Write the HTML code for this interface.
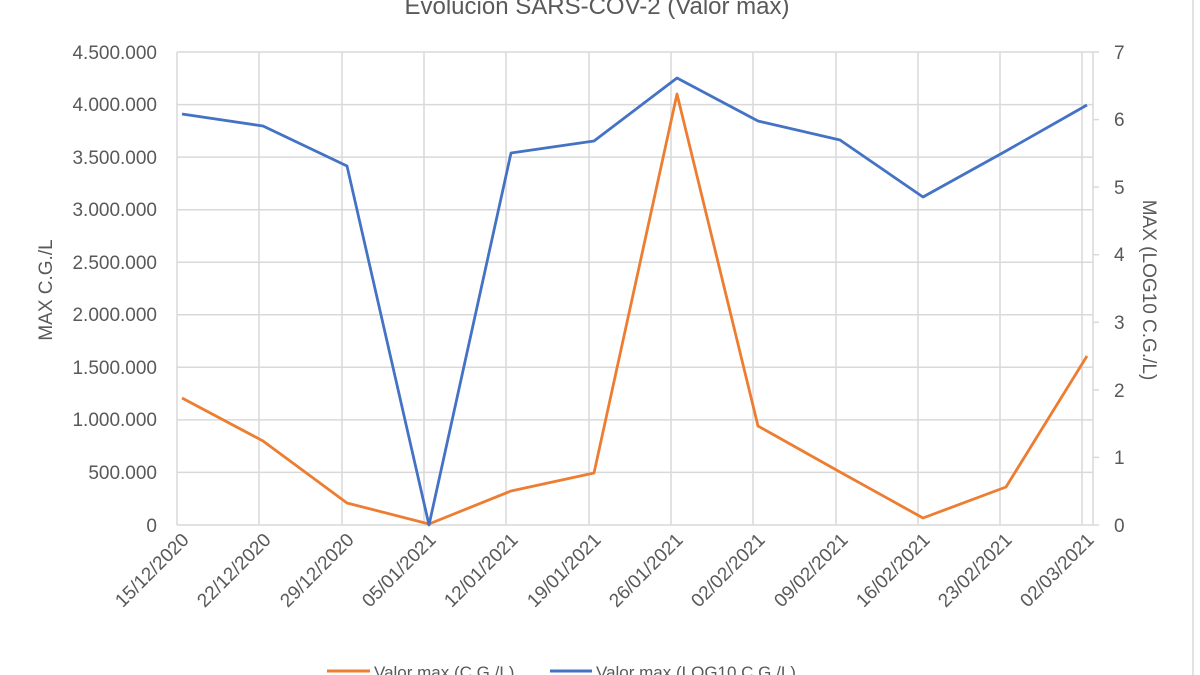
<!DOCTYPE html>
<html><head><meta charset="utf-8"><style>body{margin:0;background:#fff}svg{display:block}</style></head>
<body>
<svg width="1200" height="675" xmlns="http://www.w3.org/2000/svg" font-family="Liberation Sans, sans-serif" fill="#595959">
<rect width="1200" height="675" fill="#fff"/>
<line x1="1193" y1="0" x2="1193" y2="675" stroke="#d9d9d9" stroke-width="1.5"/>
<text x="597" y="14" font-size="24" text-anchor="middle">Evolución SARS-COV-2 (Valor max)</text>
<g stroke="#d9d9d9" stroke-width="1.5">
<line x1="177" y1="52" x2="1093" y2="52"/><line x1="177" y1="104.6" x2="1093" y2="104.6"/><line x1="177" y1="157.1" x2="1093" y2="157.1"/><line x1="177" y1="209.7" x2="1093" y2="209.7"/><line x1="177" y1="262.2" x2="1093" y2="262.2"/><line x1="177" y1="314.8" x2="1093" y2="314.8"/><line x1="177" y1="367.3" x2="1093" y2="367.3"/><line x1="177" y1="419.9" x2="1093" y2="419.9"/><line x1="177" y1="472.4" x2="1093" y2="472.4"/><line x1="177" y1="525" x2="1093" y2="525"/>
<line x1="177" y1="52" x2="177" y2="525"/><line x1="259" y1="52" x2="259" y2="525"/><line x1="342" y1="52" x2="342" y2="525"/><line x1="424" y1="52" x2="424" y2="525"/><line x1="506" y1="52" x2="506" y2="525"/><line x1="589" y1="52" x2="589" y2="525"/><line x1="671" y1="52" x2="671" y2="525"/><line x1="753" y1="52" x2="753" y2="525"/><line x1="836" y1="52" x2="836" y2="525"/><line x1="918" y1="52" x2="918" y2="525"/><line x1="1000" y1="52" x2="1000" y2="525"/><line x1="1082" y1="52" x2="1082" y2="525"/>
<line x1="1093" y1="52" x2="1093" y2="525"/>
<line x1="1093" y1="52" x2="1099" y2="52"/><line x1="1093" y1="119.6" x2="1099" y2="119.6"/><line x1="1093" y1="187.1" x2="1099" y2="187.1"/><line x1="1093" y1="254.7" x2="1099" y2="254.7"/><line x1="1093" y1="322.3" x2="1099" y2="322.3"/><line x1="1093" y1="389.9" x2="1099" y2="389.9"/><line x1="1093" y1="457.4" x2="1099" y2="457.4"/><line x1="1093" y1="525" x2="1099" y2="525"/>
</g>
<g font-size="19" text-anchor="end">
<text x="157" y="59">4.500.000</text><text x="157" y="111">4.000.000</text><text x="157" y="164">3.500.000</text><text x="157" y="216">3.000.000</text><text x="157" y="269">2.500.000</text><text x="157" y="321">2.000.000</text><text x="157" y="374">1.500.000</text><text x="157" y="426">1.000.000</text><text x="157" y="479">500.000</text><text x="157" y="532">0</text>
</g>
<g font-size="19">
<text x="1114" y="59">7</text><text x="1114" y="126">6</text><text x="1114" y="194">5</text><text x="1114" y="261">4</text><text x="1114" y="329">3</text><text x="1114" y="397">2</text><text x="1114" y="464">1</text><text x="1114" y="532">0</text>
</g>
<text transform="translate(52,290) rotate(-90)" font-size="19" text-anchor="middle">MAX C.G./L</text>
<text transform="translate(1143,290) rotate(90)" font-size="19" text-anchor="middle">MAX (LOG10 C.G./L)</text>
<g font-size="19" text-anchor="end">
<text transform="translate(190,541) rotate(-45)">15/12/2020</text>
<text transform="translate(272,541) rotate(-45)">22/12/2020</text>
<text transform="translate(355,541) rotate(-45)">29/12/2020</text>
<text transform="translate(437,541) rotate(-45)">05/01/2021</text>
<text transform="translate(519,541) rotate(-45)">12/01/2021</text>
<text transform="translate(602,541) rotate(-45)">19/01/2021</text>
<text transform="translate(684,541) rotate(-45)">26/01/2021</text>
<text transform="translate(766,541) rotate(-45)">02/02/2021</text>
<text transform="translate(849,541) rotate(-45)">09/02/2021</text>
<text transform="translate(931,541) rotate(-45)">16/02/2021</text>
<text transform="translate(1013,541) rotate(-45)">23/02/2021</text>
<text transform="translate(1095,541) rotate(-45)">02/03/2021</text>
</g>
<polyline fill="none" stroke="#ed7d31" stroke-width="2.8" stroke-linejoin="round" points="182,398 263,441 347,503 429,524 511,491 594,473 677,94 758,426 840,472 923,518 1006,487 1087,356"/>
<polyline fill="none" stroke="#4472c4" stroke-width="2.8" stroke-linejoin="round" points="182,114 263,126 347,166 429,525 511,153 594,141 677,78 758,121 840,140 923,197 1006,151 1087,105"/>
<line x1="327" y1="671" x2="370" y2="671" stroke="#ed7d31" stroke-width="3"/>
<text x="374" y="678" font-size="17">Valor max (C.G./L)</text>
<line x1="550" y1="671" x2="592" y2="671" stroke="#4472c4" stroke-width="3"/>
<text x="596" y="678" font-size="17">Valor max (LOG10 C.G./L)</text>
</svg>
</body></html>
